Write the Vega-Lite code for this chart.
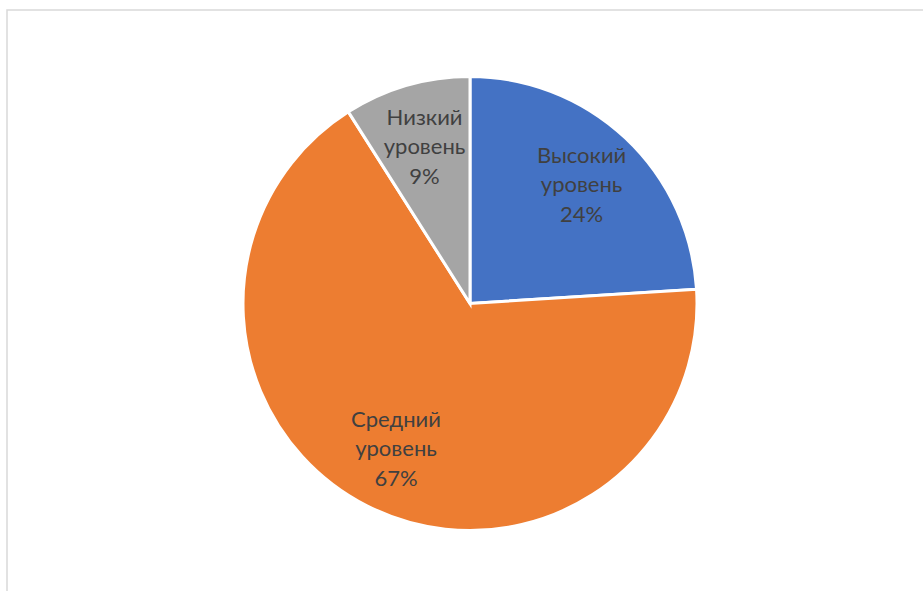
{
  "$schema": "https://vega.github.io/schema/vega-lite/v6.json",
  "width": 917,
  "height": 582,
  "autosize": {"type": "none"},
  "padding": {"left": 7, "top": 10, "right": 0, "bottom": 0},
  "background": "white",
  "config": {"view": {"stroke": "#d9d9d9", "strokeWidth": 1.5}},
  "data": {
    "values": [
      {"n": 1, "category": "Высокий уровень", "value": 24, "label": "Высокий\nуровень\n24%"},
      {"n": 2, "category": "Средний уровень", "value": 67, "label": "Средний\nуровень\n67%"},
      {"n": 3, "category": "Низкий уровень", "value": 9, "label": "Низкий\nуровень\n9%"}
    ]
  },
  "layer": [
    {
      "mark": {"type": "point", "opacity": 0, "size": 0},
      "encoding": {
        "x": {"field": "value", "type": "quantitative", "axis": null, "scale": {"domain": [-100, 200]}},
        "y": {"field": "n", "type": "quantitative", "axis": null, "scale": {"domain": [-10, 10]}}
      }
    },
    {
      "mark": {"type": "arc", "outerRadius": 227, "stroke": "white", "strokeWidth": 3,
        "x": {"expr": "width/2+4.5"}, "y": {"expr": "height/2+2.5"}},
      "encoding": {
        "theta": {"field": "value", "type": "quantitative", "stack": true},
        "order": {"field": "n", "type": "quantitative"},
        "color": {"field": "category", "type": "nominal",
          "scale": {"domain": ["Высокий уровень", "Средний уровень", "Низкий уровень"],
            "range": ["#4472C4", "#ED7D31", "#A5A5A5"]},
          "legend": null}
      }
    },
    {
      "mark": {"type": "text", "radius": 163, "fontSize": 22, "lineHeight": 29.5, "lineBreak": "\n",
        "font": "Lato", "fill": "#404040", "align": "center", "baseline": "middle", "dy": -29,
        "x": {"expr": "width/2+4.5"}, "y": {"expr": "height/2+2.5"}},
      "encoding": {
        "theta": {"field": "value", "type": "quantitative", "stack": true},
        "order": {"field": "n", "type": "quantitative"},
        "text": {"field": "label", "type": "nominal"}
      }
    }
  ]
}
